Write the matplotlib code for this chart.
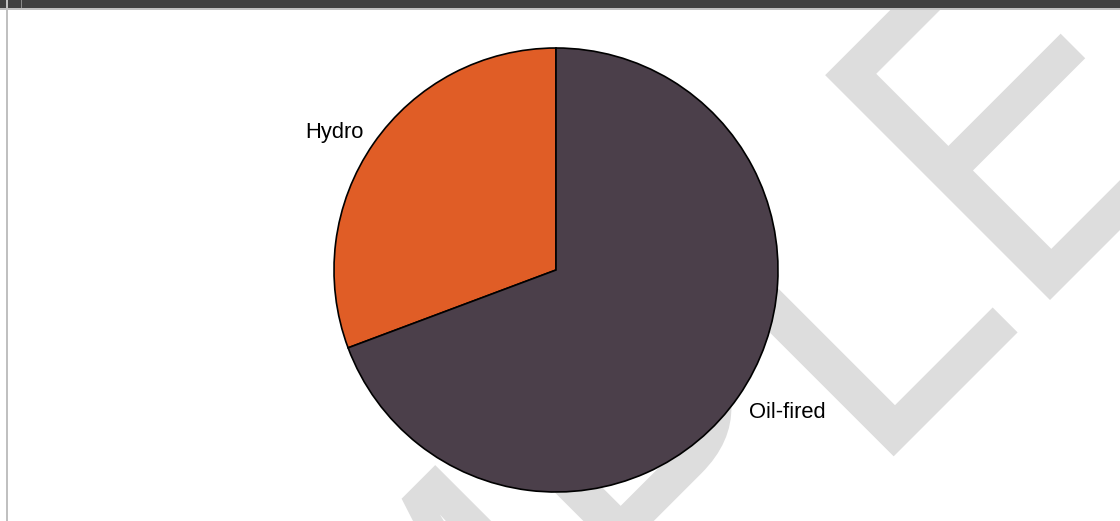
import matplotlib
matplotlib.use("Agg")
import matplotlib.pyplot as plt
from matplotlib.patches import Rectangle, PathPatch
from matplotlib.textpath import TextPath
from matplotlib.font_manager import FontProperties
from matplotlib.transforms import Affine2D, IdentityTransform

W, H = 1120, 521

# ---------- data ----------
sources = ["Hydro", "Oil-fired"]
shares = [30.7, 69.3]
colors = ["#E05D26", "#4B3F4A"]

fig = plt.figure(figsize=(W / 100, H / 100), dpi=100)
fig.patch.set_facecolor("white")

# ---------- watermark ----------
fp = FontProperties(family="Liberation Sans")
squeeze = 0.86  # narrow letters
cap = TextPath((0, 0), "E", size=100, prop=fp).get_extents()
em = 100 * 318 / cap.height
mark = TextPath((0, 0), "SAMPLE", size=em, prop=fp)
e_w = TextPath((0, 0), "E", size=em, prop=fp).get_extents().width
x0 = mark.get_extents().x1 - e_w
tr = (Affine2D().translate(-x0, 0).scale(squeeze, 1)
      .rotate_deg(45).translate(1050, H - 300))
fig.add_artist(PathPatch(mark, transform=tr, facecolor="#dddddd",
                         edgecolor="none", zorder=-1))

# ---------- pie ----------
ax = fig.add_axes([334 / W, (H - 492) / H, 444 / W, 444 / H])
wedges, texts = ax.pie(
    shares,
    labels=sources,
    colors=colors,
    startangle=90,
    counterclock=True,
    labeldistance=1.057,
    wedgeprops=dict(edgecolor="black", linewidth=1.2),
    textprops=dict(fontsize=15.8, family="Liberation Sans", color="black"),
)
# push labels a little further out vertically
for t in texts:
    x, y = t.get_position()
    t.set_position((x, y * 1.045 - 0.011))
ax.set_xlim(-1, 1)
ax.set_ylim(-1, 1)
ax.set_aspect("equal")
ax.axis("off")

# ---------- frame ----------
ident = IdentityTransform()
fig.add_artist(Rectangle((0, H - 8), W, 8, transform=ident,
                         facecolor="#404040", edgecolor="none", zorder=5))
fig.add_artist(Rectangle((0, H - 10), W, 2, transform=ident,
                         facecolor="#c0c0c0", edgecolor="none", zorder=5))
fig.add_artist(Rectangle((6, 0), 2, H, transform=ident,
                         facecolor="#c0c0c0", edgecolor="none", zorder=6))
fig.add_artist(Rectangle((21, H - 8), 1, 8, transform=ident,
                         facecolor="#8a8a8a", edgecolor="none", zorder=6))

fig.savefig("out.png", dpi=100)
plt.close()
